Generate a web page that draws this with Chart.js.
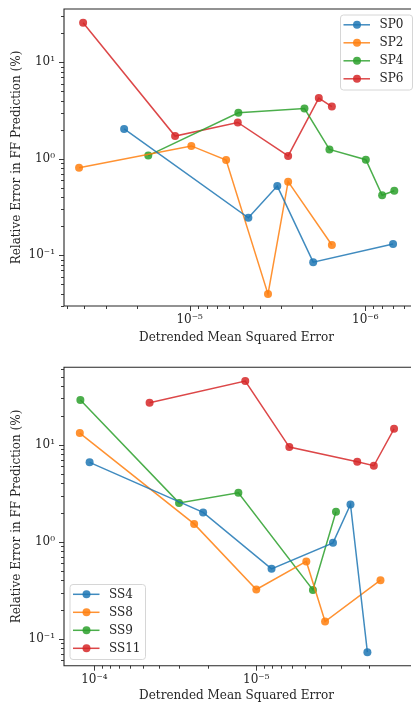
<!DOCTYPE html>
<html>
<head>
<meta charset="utf-8">
<script src="https://cdn.jsdelivr.net/npm/chart.js@4/dist/chart.umd.min.js"></script>
<style>
    html, body { margin: 0; padding: 0; background: #fff; }
    canvas { position: absolute; left: 0; }
</style>
</head>
<body>
<canvas id="spChart" width="413" height="350" style="top:0"></canvas>
<canvas id="ssChart" width="413" height="355" style="top:350px"></canvas>
<script>
// top panel
var spLabels = ['SP0', 'SP2', 'SP4', 'SP6'];
var sp0X = [2.36e-5, 4.63e-6, 3.17e-6, 1.98e-6, 6.95e-7];
var sp0Y = [2.04, 0.245, 0.522, 0.085, 0.131];
var sp2X = [4.26e-5, 9.78e-6, 6.2e-6, 3.58e-6, 2.75e-6, 1.55e-6];
var sp2Y = [0.81, 1.36, 0.97, 0.0397, 0.58, 0.128];
var sp4X = [1.72e-5, 5.28e-6, 2.22e-6, 1.6e-6, 9.93e-7, 8.02e-7, 6.84e-7];
var sp4Y = [1.08, 3.0, 3.32, 1.25, 0.98, 0.419, 0.467];
var sp6X = [4.04e-5, 1.21e-5, 5.32e-6, 2.75e-6, 1.84e-6, 1.55e-6];
var sp6Y = [25.7, 1.72, 2.38, 1.07, 4.26, 3.48];

// bottom panel
var ssLabels = ['SS4', 'SS8', 'SS9', 'SS11'];
var ss4X = [1.07e-4, 2.13e-5, 8.05e-6, 3.36e-6, 2.62e-6, 2.06e-6];
var ss4Y = [6.59, 2.01, 0.527, 0.976, 2.43, 0.073];
var ss8X = [1.23e-4, 2.42e-5, 1.0e-5, 4.91e-6, 3.76e-6, 1.71e-6];
var ss8Y = [13.2, 1.53, 0.323, 0.628, 0.151, 0.403];
var ss9X = [1.22e-4, 3.0e-5, 1.29e-5, 4.47e-6, 3.22e-6];
var ss9Y = [28.9, 2.52, 3.2, 0.32, 2.04];
var ss11X = [4.56e-5, 1.17e-5, 6.25e-6, 2.38e-6, 1.88e-6, 1.41e-6];
var ss11Y = [27.1, 45.4, 9.47, 6.68, 6.08, 14.6];

var xTitle = 'Detrended Mean Squared Error';
var yTitle = 'Relative Error in FF Prediction (%)';

(function () {
    var colors = ['rgba(31,119,180,0.85)', 'rgba(255,127,14,0.85)', 'rgba(44,160,44,0.85)', 'rgba(214,39,40,0.85)'];
    var FONT = 'DejaVu Serif';
    var INK = '#262626';
    var SUP = { '-': '\u207B', '0': '\u2070', '1': '\u00B9', '2': '\u00B2', '3': '\u00B3', '4': '\u2074', '5': '\u2075', '6': '\u2076', '7': '\u2077', '8': '\u2078', '9': '\u2079' };

    function toPoints(xs, ys) {
        return xs.map(function (x, i) {
            return { x: x, y: ys[i] };
        });
    }

    function buildSets(labels, pairs) {
        return labels.map(function (label, i) {
            return {
                label: label,
                data: toPoints(pairs[i][0], pairs[i][1]),
                borderColor: colors[i],
                backgroundColor: colors[i],
                borderWidth: 1.5,
                pointRadius: 4,
                pointBorderWidth: 0,
                pointHoverRadius: 4,
                tension: 0
            };
        });
    }

    function logTicks(scale) {
        var lo = Math.min(scale.min, scale.max);
        var hi = Math.max(scale.min, scale.max);
        var ticks = [];
        for (var d = Math.floor(Math.log10(lo)); d <= Math.ceil(Math.log10(hi)); d++) {
            for (var m = 1; m < 10; m++) {
                var v = m * Math.pow(10, d);
                if (v >= lo * 0.9999 && v <= hi * 1.0001) {
                    ticks.push({ value: v, major: m === 1 });
                }
            }
        }
        scale.ticks = ticks;
    }

    function powLabel(value, index, ticks) {
        if (!ticks[index] || !ticks[index].major) {
            return '';
        }
        var e = String(Math.round(Math.log10(value)));
        return '10' + e.split('').map(function (c) { return SUP[c]; }).join('');
    }

    function noPad(s) {
        s.paddingTop = 0;
        s.paddingBottom = 0;
        s.paddingLeft = 0;
        s.paddingRight = 0;
    }

    var frame = {
        id: 'frame',
        afterDatasetsDraw: function (chart) {
            var ctx = chart.ctx;
            var a = chart.chartArea;
            var xs = chart.scales.x;
            var ys = chart.scales.y;
            ctx.save();
            ctx.strokeStyle = INK;
            ctx.lineWidth = 1.1;
            ctx.beginPath();
            ctx.moveTo(a.right + 2, a.top);
            ctx.lineTo(a.left, a.top);
            ctx.lineTo(a.left, a.bottom);
            ctx.lineTo(a.right + 2, a.bottom);
            ctx.stroke();
            ctx.lineWidth = 0.9;
            ctx.beginPath();
            xs.ticks.forEach(function (t) {
                var px = Math.round(xs.getPixelForValue(t.value)) + 0.5;
                ctx.moveTo(px, a.bottom);
                ctx.lineTo(px, a.bottom + (t.major ? 5 : 3));
            });
            ys.ticks.forEach(function (t) {
                var py = Math.round(ys.getPixelForValue(t.value)) + 0.5;
                ctx.moveTo(a.left, py);
                ctx.lineTo(a.left - (t.major ? 5 : 3), py);
            });
            ctx.stroke();
            ctx.restore();
        }
    };

    var legendBox = {
        id: 'legendBox',
        afterDraw: function (chart, args, opts) {
            var ctx = chart.ctx;
            ctx.save();
            ctx.beginPath();
            ctx.roundRect(opts.x + 0.5, opts.y + 0.5, opts.w, opts.h, 3);
            ctx.fillStyle = 'rgba(255,255,255,0.8)';
            ctx.fill();
            ctx.strokeStyle = '#d6d6d6';
            ctx.lineWidth = 1;
            ctx.stroke();
            ctx.font = '12px "' + FONT + '"';
            ctx.textBaseline = 'middle';
            ctx.fillStyle = INK;
            chart.data.datasets.forEach(function (ds, i) {
                var y = opts.y + 10.3 + i * 18;
                ctx.strokeStyle = ds.borderColor;
                ctx.lineWidth = 1.5;
                ctx.beginPath();
                ctx.moveTo(opts.x + 3.5, y);
                ctx.lineTo(opts.x + 30, y);
                ctx.stroke();
                ctx.fillStyle = ds.backgroundColor;
                ctx.beginPath();
                ctx.arc(opts.x + 17, y, 4, 0, Math.PI * 2);
                ctx.fill();
                ctx.fillStyle = INK;
                ctx.fillText(ds.label, opts.x + 39.5, y + 0.5);
            });
            ctx.restore();
        }
    };

    function makeChart(id, labels, pairs, lim, box) {
        var canvas = document.getElementById(id);
        new Chart(canvas, {
            type: 'line',
            data: { datasets: buildSets(labels, pairs) },
            plugins: [frame, legendBox],
            options: {
                responsive: false,
                devicePixelRatio: 1,
                animation: false,
                layout: { padding: { top: lim.top, right: 0, bottom: 0, left: 0 } },
                plugins: {
                    legend: { display: false },
                    tooltip: { enabled: false },
                    legendBox: box
                },
                scales: {
                    x: {
                        type: 'logarithmic',
                        reverse: true,
                        min: lim.xMin,
                        max: lim.xMax,
                        grid: { display: false, drawTicks: false },
                        border: { display: false },
                        afterBuildTicks: logTicks,
                        afterFit: function (s) { s.height = lim.xh; noPad(s); },
                        ticks: {
                            autoSkip: false,
                            maxRotation: 0,
                            padding: 7,
                            color: INK,
                            font: { family: FONT, size: 12 },
                            callback: powLabel
                        },
                        title: {
                            display: true,
                            text: xTitle,
                            color: INK,
                            font: { family: FONT, size: 12 },
                            padding: { top: 0, bottom: lim.tb }
                        }
                    },
                    y: {
                        type: 'logarithmic',
                        min: lim.yMin,
                        max: lim.yMax,
                        grid: { display: false, drawTicks: false },
                        border: { display: false },
                        afterBuildTicks: logTicks,
                        afterFit: function (s) { s.width = 64; noPad(s); },
                        ticks: {
                            autoSkip: false,
                            padding: 9,
                            color: INK,
                            font: { family: FONT, size: 12 },
                            callback: powLabel
                        },
                        title: {
                            display: true,
                            text: yTitle,
                            color: INK,
                            font: { family: FONT, size: 12 },
                            padding: { top: 10, bottom: 0 }
                        }
                    }
                }
            }
        });
    }

    makeChart('spChart', spLabels,
        [[sp0X, sp0Y], [sp2X, sp2Y], [sp4X, sp4Y], [sp6X, sp6Y]],
        { top: 9, xh: 44, tb: 4.5, xMin: 5.64e-7, xMax: 5.19e-5, yMin: 0.0299, yMax: 35.6 },
        { x: 340, y: 14.5, w: 72, h: 75 });

    makeChart('ssChart', ssLabels,
        [[ss4X, ss4Y], [ss8X, ss8Y], [ss9X, ss9Y], [ss11X, ss11Y]],
        { top: 17.3, xh: 39.3, tb: 1.8, xMin: 1.14e-6, xMax: 1.54e-4, yMin: 0.053, yMax: 62.8 },
        { x: 69.5, y: 234, w: 75.5, h: 75 });
})();
</script>
</body>
</html>
